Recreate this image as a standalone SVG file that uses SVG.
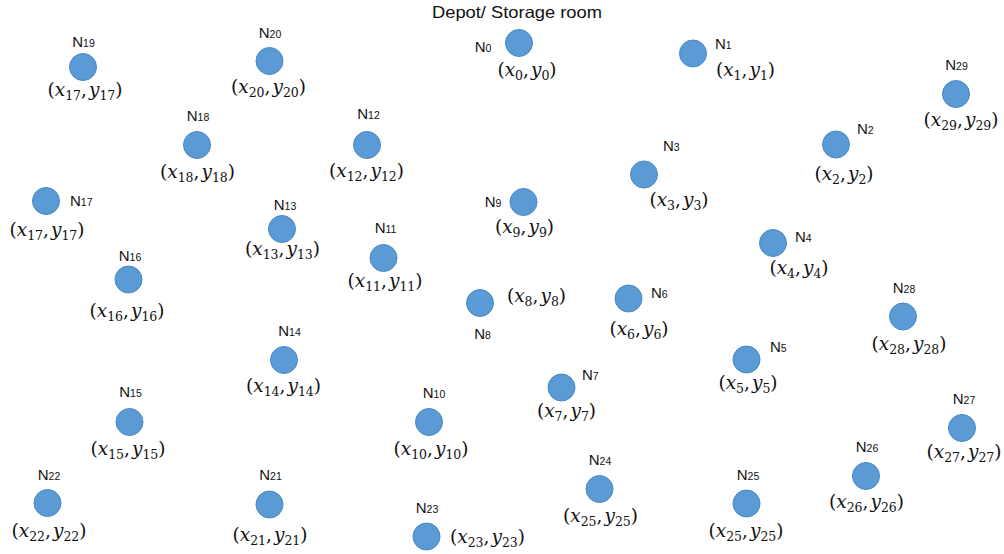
<svg xmlns="http://www.w3.org/2000/svg" width="1004" height="554" viewBox="0 0 1004 554">
<style>
.c{fill:#5b9bd5;stroke:#4a88c2;stroke-width:1}
.n{font-family:"Liberation Sans",Arial,sans-serif;font-size:15px;fill:#111}
.n tspan{font-size:10.5px}
.m{font-family:"DejaVu Serif","Liberation Serif",serif;font-size:18.5px;fill:#111;text-anchor:middle}
.m .v{font-style:italic}
.m .s{font-size:12.5px}
.t{font-family:"Liberation Sans",Arial,sans-serif;font-size:16.5px;fill:#111}
.mid{text-anchor:middle}
</style>
<rect width="1004" height="554" fill="#fff"/>
<text class="t" x="432" y="18" textLength="170" lengthAdjust="spacingAndGlyphs">Depot/ Storage room</text>
<g id="connectors"/>
<g id="N0"><circle class="c" cx="519" cy="43" r="13.5"/><text class="n mid" x="483" y="52">N<tspan>0</tspan></text><text class="m" x="527" y="76">(<tspan class="v">x</tspan><tspan class="s" dy="4">0</tspan><tspan dy="-4">,</tspan><tspan class="v" dx="2">y</tspan><tspan class="s" dy="4">0</tspan><tspan dy="-4">)</tspan></text></g>
<g id="N1"><circle class="c" cx="693" cy="53.5" r="13.5"/><text class="n" x="715" y="48.5">N<tspan>1</tspan></text><text class="m" x="745.5" y="76">(<tspan class="v">x</tspan><tspan class="s" dy="4">1</tspan><tspan dy="-4">,</tspan><tspan class="v" dx="2">y</tspan><tspan class="s" dy="4">1</tspan><tspan dy="-4">)</tspan></text></g>
<g id="N2"><circle class="c" cx="836" cy="144.5" r="13.5"/><text class="n" x="857" y="134">N<tspan>2</tspan></text><text class="m" x="844" y="180">(<tspan class="v">x</tspan><tspan class="s" dy="4">2</tspan><tspan dy="-4">,</tspan><tspan class="v" dx="2">y</tspan><tspan class="s" dy="4">2</tspan><tspan dy="-4">)</tspan></text></g>
<g id="N3"><circle class="c" cx="644" cy="174.5" r="13.5"/><text class="n" x="663" y="151">N<tspan>3</tspan></text><text class="m" x="679" y="206">(<tspan class="v">x</tspan><tspan class="s" dy="4">3</tspan><tspan dy="-4">,</tspan><tspan class="v" dx="2">y</tspan><tspan class="s" dy="4">3</tspan><tspan dy="-4">)</tspan></text></g>
<g id="N4"><circle class="c" cx="773" cy="243" r="13.5"/><text class="n" x="795" y="241.5">N<tspan>4</tspan></text><text class="m" x="799" y="274">(<tspan class="v">x</tspan><tspan class="s" dy="4">4</tspan><tspan dy="-4">,</tspan><tspan class="v" dx="2">y</tspan><tspan class="s" dy="4">4</tspan><tspan dy="-4">)</tspan></text></g>
<g id="N5"><circle class="c" cx="746.5" cy="359.5" r="13.5"/><text class="n" x="770" y="351.5">N<tspan>5</tspan></text><text class="m" x="748" y="388.5">(<tspan class="v">x</tspan><tspan class="s" dy="4">5</tspan><tspan dy="-4">,</tspan><tspan class="v" dx="2">y</tspan><tspan class="s" dy="4">5</tspan><tspan dy="-4">)</tspan></text></g>
<g id="N6"><circle class="c" cx="628.5" cy="298.5" r="13.5"/><text class="n" x="651" y="298">N<tspan>6</tspan></text><text class="m" x="639" y="335">(<tspan class="v">x</tspan><tspan class="s" dy="4">6</tspan><tspan dy="-4">,</tspan><tspan class="v" dx="2">y</tspan><tspan class="s" dy="4">6</tspan><tspan dy="-4">)</tspan></text></g>
<g id="N7"><circle class="c" cx="561.5" cy="387.5" r="13.5"/><text class="n" x="582" y="380">N<tspan>7</tspan></text><text class="m" x="566.5" y="416.5">(<tspan class="v">x</tspan><tspan class="s" dy="4">7</tspan><tspan dy="-4">,</tspan><tspan class="v" dx="2">y</tspan><tspan class="s" dy="4">7</tspan><tspan dy="-4">)</tspan></text></g>
<g id="N8"><circle class="c" cx="480" cy="303" r="13.5"/><text class="n mid" x="482.5" y="339">N<tspan>8</tspan></text><text class="m" x="536.5" y="302">(<tspan class="v">x</tspan><tspan class="s" dy="4">8</tspan><tspan dy="-4">,</tspan><tspan class="v" dx="2">y</tspan><tspan class="s" dy="4">8</tspan><tspan dy="-4">)</tspan></text></g>
<g id="N9"><circle class="c" cx="523.5" cy="202" r="13.5"/><text class="n mid" x="493" y="206.5">N<tspan>9</tspan></text><text class="m" x="524.5" y="233">(<tspan class="v">x</tspan><tspan class="s" dy="4">9</tspan><tspan dy="-4">,</tspan><tspan class="v" dx="2">y</tspan><tspan class="s" dy="4">9</tspan><tspan dy="-4">)</tspan></text></g>
<g id="N10"><circle class="c" cx="429" cy="422" r="13.5"/><text class="n mid" x="434" y="398">N<tspan>10</tspan></text><text class="m" x="431" y="455">(<tspan class="v">x</tspan><tspan class="s" dy="4">10</tspan><tspan dy="-4">,</tspan><tspan class="v" dx="2">y</tspan><tspan class="s" dy="4">10</tspan><tspan dy="-4">)</tspan></text></g>
<g id="N11"><circle class="c" cx="383.5" cy="258" r="13.5"/><text class="n mid" x="385.5" y="233">N<tspan>11</tspan></text><text class="m" x="385" y="286.5">(<tspan class="v">x</tspan><tspan class="s" dy="4">11</tspan><tspan dy="-4">,</tspan><tspan class="v" dx="2">y</tspan><tspan class="s" dy="4">11</tspan><tspan dy="-4">)</tspan></text></g>
<g id="N12"><circle class="c" cx="367" cy="145" r="13.5"/><text class="n mid" x="368.5" y="118.5">N<tspan>12</tspan></text><text class="m" x="366.5" y="176.5">(<tspan class="v">x</tspan><tspan class="s" dy="4">12</tspan><tspan dy="-4">,</tspan><tspan class="v" dx="2">y</tspan><tspan class="s" dy="4">12</tspan><tspan dy="-4">)</tspan></text></g>
<g id="N13"><circle class="c" cx="282" cy="229" r="13.5"/><text class="n mid" x="285" y="209.5">N<tspan>13</tspan></text><text class="m" x="282.5" y="255">(<tspan class="v">x</tspan><tspan class="s" dy="4">13</tspan><tspan dy="-4">,</tspan><tspan class="v" dx="2">y</tspan><tspan class="s" dy="4">13</tspan><tspan dy="-4">)</tspan></text></g>
<g id="N14"><circle class="c" cx="284" cy="360" r="13.5"/><text class="n mid" x="289.5" y="336">N<tspan>14</tspan></text><text class="m" x="283.5" y="391.5">(<tspan class="v">x</tspan><tspan class="s" dy="4">14</tspan><tspan dy="-4">,</tspan><tspan class="v" dx="2">y</tspan><tspan class="s" dy="4">14</tspan><tspan dy="-4">)</tspan></text></g>
<g id="N15"><circle class="c" cx="129.5" cy="422" r="13.5"/><text class="n mid" x="130.5" y="396.5">N<tspan>15</tspan></text><text class="m" x="128" y="455">(<tspan class="v">x</tspan><tspan class="s" dy="4">15</tspan><tspan dy="-4">,</tspan><tspan class="v" dx="2">y</tspan><tspan class="s" dy="4">15</tspan><tspan dy="-4">)</tspan></text></g>
<g id="N16"><circle class="c" cx="128.5" cy="279.5" r="13.5"/><text class="n mid" x="130" y="261">N<tspan>16</tspan></text><text class="m" x="127" y="317">(<tspan class="v">x</tspan><tspan class="s" dy="4">16</tspan><tspan dy="-4">,</tspan><tspan class="v" dx="2">y</tspan><tspan class="s" dy="4">16</tspan><tspan dy="-4">)</tspan></text></g>
<g id="N17"><circle class="c" cx="46" cy="201" r="13.5"/><text class="n" x="70" y="206">N<tspan>17</tspan></text><text class="m" x="47" y="236">(<tspan class="v">x</tspan><tspan class="s" dy="4">17</tspan><tspan dy="-4">,</tspan><tspan class="v" dx="2">y</tspan><tspan class="s" dy="4">17</tspan><tspan dy="-4">)</tspan></text></g>
<g id="N18"><circle class="c" cx="197" cy="145" r="13.5"/><text class="n mid" x="198" y="121">N<tspan>18</tspan></text><text class="m" x="197.5" y="178">(<tspan class="v">x</tspan><tspan class="s" dy="4">18</tspan><tspan dy="-4">,</tspan><tspan class="v" dx="2">y</tspan><tspan class="s" dy="4">18</tspan><tspan dy="-4">)</tspan></text></g>
<g id="N19"><circle class="c" cx="83" cy="67" r="13.5"/><text class="n mid" x="83.5" y="47">N<tspan>19</tspan></text><text class="m" x="85" y="96">(<tspan class="v">x</tspan><tspan class="s" dy="4">17</tspan><tspan dy="-4">,</tspan><tspan class="v" dx="2">y</tspan><tspan class="s" dy="4">17</tspan><tspan dy="-4">)</tspan></text></g>
<g id="N20"><circle class="c" cx="269.5" cy="61" r="13.5"/><text class="n mid" x="270" y="37.5">N<tspan>20</tspan></text><text class="m" x="268.5" y="92.5">(<tspan class="v">x</tspan><tspan class="s" dy="4">20</tspan><tspan dy="-4">,</tspan><tspan class="v" dx="2">y</tspan><tspan class="s" dy="4">20</tspan><tspan dy="-4">)</tspan></text></g>
<g id="N21"><circle class="c" cx="269.5" cy="504.5" r="13.5"/><text class="n mid" x="270.5" y="480">N<tspan>21</tspan></text><text class="m" x="270" y="541">(<tspan class="v">x</tspan><tspan class="s" dy="4">21</tspan><tspan dy="-4">,</tspan><tspan class="v" dx="2">y</tspan><tspan class="s" dy="4">21</tspan><tspan dy="-4">)</tspan></text></g>
<g id="N22"><circle class="c" cx="47.5" cy="503" r="13.5"/><text class="n mid" x="49" y="479.5">N<tspan>22</tspan></text><text class="m" x="49" y="536.5">(<tspan class="v">x</tspan><tspan class="s" dy="4">22</tspan><tspan dy="-4">,</tspan><tspan class="v" dx="2">y</tspan><tspan class="s" dy="4">22</tspan><tspan dy="-4">)</tspan></text></g>
<g id="N23"><circle class="c" cx="426.5" cy="536.5" r="13.5"/><text class="n mid" x="427" y="512.5">N<tspan>23</tspan></text><text class="m" x="487.5" y="543">(<tspan class="v">x</tspan><tspan class="s" dy="4">23</tspan><tspan dy="-4">,</tspan><tspan class="v" dx="2">y</tspan><tspan class="s" dy="4">23</tspan><tspan dy="-4">)</tspan></text></g>
<g id="N24"><circle class="c" cx="599.5" cy="489" r="13.5"/><text class="n mid" x="600" y="464.5">N<tspan>24</tspan></text><text class="m" x="600.5" y="521.5">(<tspan class="v">x</tspan><tspan class="s" dy="4">25</tspan><tspan dy="-4">,</tspan><tspan class="v" dx="2">y</tspan><tspan class="s" dy="4">25</tspan><tspan dy="-4">)</tspan></text></g>
<g id="N25"><circle class="c" cx="746.5" cy="503.5" r="13.5"/><text class="n mid" x="748" y="480">N<tspan>25</tspan></text><text class="m" x="746" y="537">(<tspan class="v">x</tspan><tspan class="s" dy="4">25</tspan><tspan dy="-4">,</tspan><tspan class="v" dx="2">y</tspan><tspan class="s" dy="4">25</tspan><tspan dy="-4">)</tspan></text></g>
<g id="N26"><circle class="c" cx="866" cy="476" r="13.5"/><text class="n mid" x="867" y="451.5">N<tspan>26</tspan></text><text class="m" x="866.5" y="508">(<tspan class="v">x</tspan><tspan class="s" dy="4">26</tspan><tspan dy="-4">,</tspan><tspan class="v" dx="2">y</tspan><tspan class="s" dy="4">26</tspan><tspan dy="-4">)</tspan></text></g>
<g id="N27"><circle class="c" cx="962" cy="428" r="13.5"/><text class="n mid" x="964" y="404">N<tspan>27</tspan></text><text class="m" x="964" y="458">(<tspan class="v">x</tspan><tspan class="s" dy="4">27</tspan><tspan dy="-4">,</tspan><tspan class="v" dx="2">y</tspan><tspan class="s" dy="4">27</tspan><tspan dy="-4">)</tspan></text></g>
<g id="N28"><circle class="c" cx="903" cy="316.5" r="13.5"/><text class="n mid" x="904" y="293">N<tspan>28</tspan></text><text class="m" x="909" y="350">(<tspan class="v">x</tspan><tspan class="s" dy="4">28</tspan><tspan dy="-4">,</tspan><tspan class="v" dx="2">y</tspan><tspan class="s" dy="4">28</tspan><tspan dy="-4">)</tspan></text></g>
<g id="N29"><circle class="c" cx="956" cy="94" r="13.5"/><text class="n mid" x="956.5" y="70">N<tspan>29</tspan></text><text class="m" x="961" y="126">(<tspan class="v">x</tspan><tspan class="s" dy="4">29</tspan><tspan dy="-4">,</tspan><tspan class="v" dx="2">y</tspan><tspan class="s" dy="4">29</tspan><tspan dy="-4">)</tspan></text></g>
</svg>
